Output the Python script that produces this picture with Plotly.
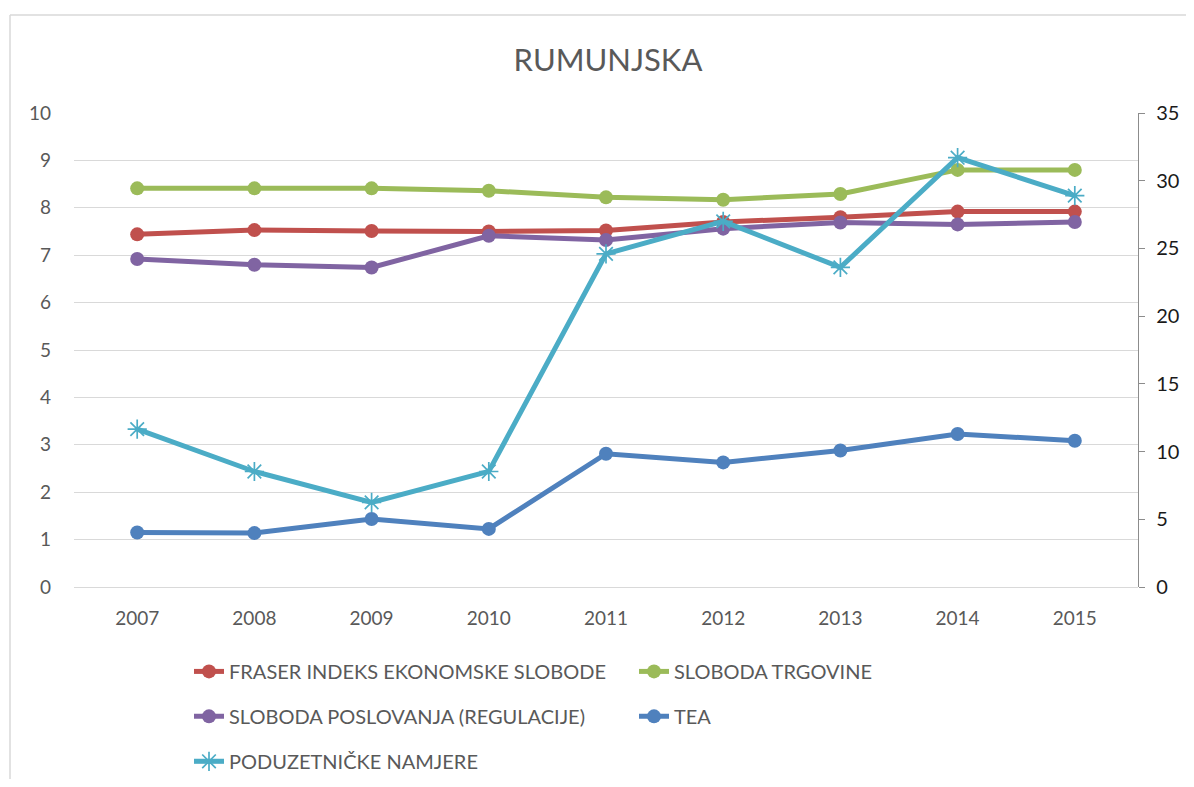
import plotly.graph_objects as go

years = ["2007", "2008", "2009", "2010", "2011", "2012", "2013", "2014", "2015"]
fraser = [7.44, 7.53, 7.51, 7.50, 7.52, 7.70, 7.80, 7.92, 7.92]
trgovina = [8.41, 8.41, 8.41, 8.36, 8.22, 8.17, 8.29, 8.80, 8.80]
poslovanje = [6.92, 6.80, 6.74, 7.41, 7.32, 7.56, 7.69, 7.65, 7.70]
tea = [4.02, 3.98, 5.02, 4.29, 9.84, 9.20, 10.08, 11.30, 10.80]
namjere = [11.66, 8.53, 6.25, 8.53, 24.6, 27.0, 23.6, 31.7, 28.9]

names = ["FRASER INDEKS EKONOMSKE SLOBODE", "SLOBODA TRGOVINE",
         "SLOBODA POSLOVANJA (REGULACIJE)", "TEA", "PODUZETNIČKE NAMJERE"]
colors = ["#C0504D", "#9BBB59", "#8064A2", "#4F81BD", "#4BACC6"]

OFF = 8  # page body margin
W, H = 1194 - 2 * OFF, 787 - 2 * OFF
# plot area in page pixels
PX0, PX1, PY0, PY1 = 74, 1138, 113, 587.5
L, R, T, B = PX0 - OFF, W - (PX1 - OFF), PY0 - OFF, H - (PY1 - OFF)
pw, ph = W - L - R, H - T - B

def px_x(x):
    return (x - OFF - L) / pw

def px_y(y):
    return (H - B - (y - OFF)) / ph

FONT = "Lato"
GRAY = "#595959"

fig = go.Figure()
series = [(fraser, "y", "legend"), (trgovina, "y", "legend"), (poslovanje, "y", "legend2"),
          (tea, "y2", "legend2"), (namjere, "y2", "legend3")]
for i, (vals, ax, lg) in enumerate(series):
    if i == 4:
        marker = dict(symbol="asterisk-open", size=16, line=dict(width=1.7, color=colors[i]), color=colors[i])
    else:
        marker = dict(symbol="circle", size=14, color=colors[i])
    fig.add_trace(go.Scatter(x=years, y=vals, name=names[i], yaxis=ax, legend=lg,
                             mode="lines+markers", line=dict(color=colors[i], width=5),
                             marker=marker))

legend_common = dict(orientation="h", xanchor="left", yanchor="middle", x=px_x(189),
                     font=dict(family=FONT, size=20, color=GRAY), entrywidth=400,
                     bgcolor="rgba(0,0,0,0)", itemwidth=30)

fig.update_layout(
    width=W, height=H,
    margin=dict(l=L, r=R, t=T, b=B, autoexpand=False),
    paper_bgcolor="white", plot_bgcolor="white",
    title=dict(text="RUMUNJSKA", x=px_x(608), xanchor="center", xref="paper",
               y=1 - (60 - OFF) / H, yanchor="middle",
               font=dict(family=FONT, size=31, color=GRAY)),
    xaxis=dict(type="category", showgrid=False, showline=False, ticks="", automargin=False,
               tickfont=dict(family=FONT, size=19, color=GRAY), ticklabelstandoff=18),
    yaxis=dict(range=[0, 10], dtick=1, showgrid=True, gridcolor="#d9d9d9", gridwidth=1.3,
               zeroline=True, zerolinecolor="#d9d9d9", zerolinewidth=1.3, showline=False,
               automargin=False,
               tickfont=dict(family=FONT, size=19, color=GRAY), ticklabelstandoff=22),
    yaxis2=dict(range=[0, 35], dtick=5, overlaying="y", side="right", showgrid=False,
                zeroline=False, showline=True, linecolor="#8c8c8c", linewidth=1.3,
                ticks="outside", ticklen=6, tickcolor="#8c8c8c", tickwidth=1.3, automargin=False,
                tickfont=dict(family=FONT, size=20, color="#1a1a1a"), ticklabelstandoff=7),
    legend=dict(**legend_common, y=px_y(672)),
    legend2=dict(**legend_common, y=px_y(717)),
    legend3=dict(**legend_common, y=px_y(762)),
    showlegend=True,
)

# chart border (top and left)
fig.add_shape(type="line", xref="paper", yref="paper", x0=px_x(10), x1=px_x(1194), y0=px_y(15), y1=px_y(15),
              line=dict(color="#d9d9d9", width=1.5))
fig.add_shape(type="line", xref="paper", yref="paper", x0=px_x(10), x1=px_x(10), y0=px_y(15), y1=px_y(787),
              line=dict(color="#d9d9d9", width=1.5))

fig.write_html("out.html")
